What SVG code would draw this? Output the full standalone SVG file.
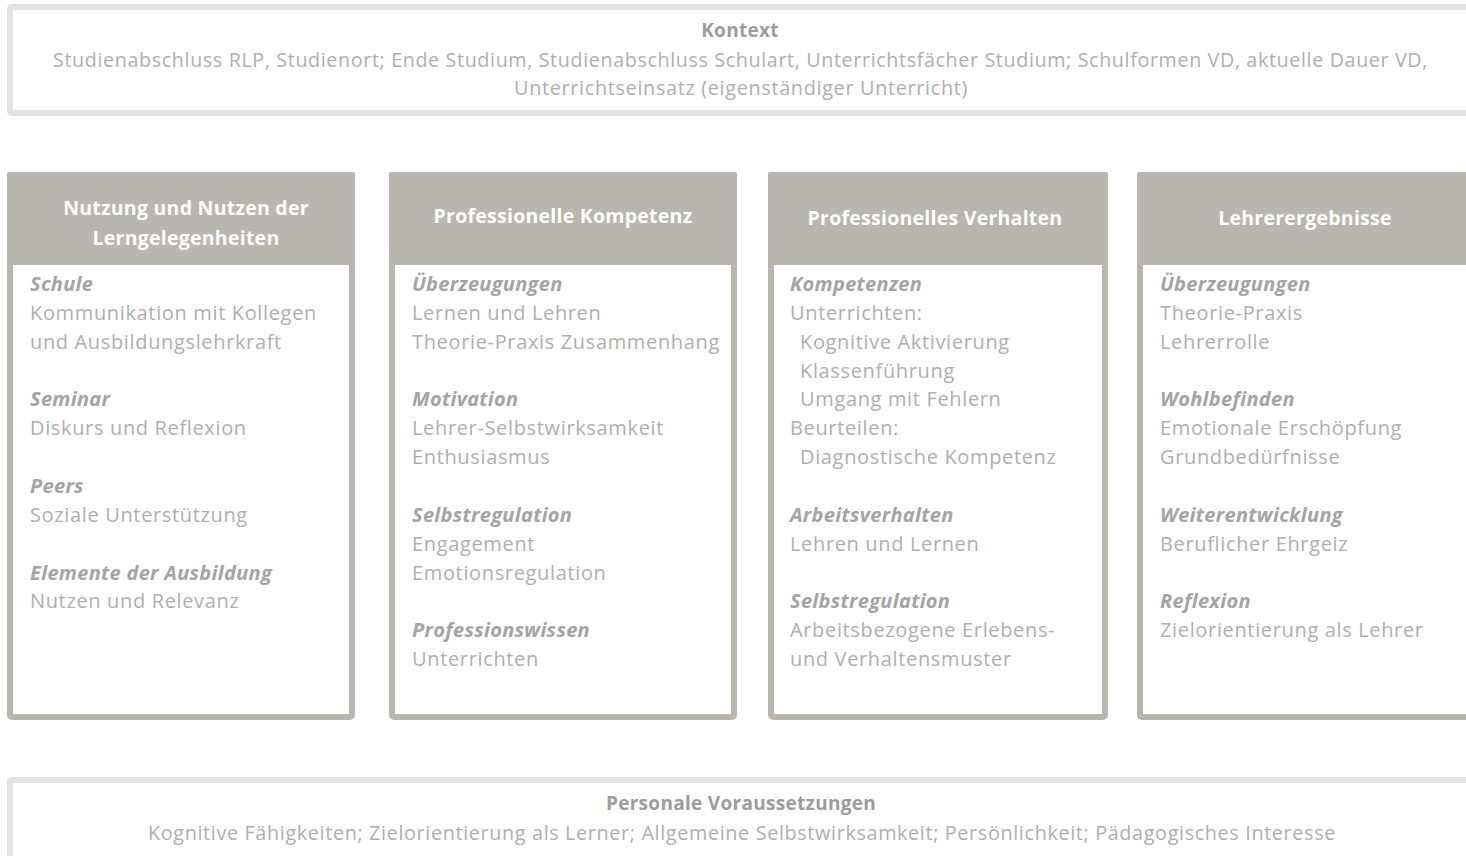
<svg xmlns="http://www.w3.org/2000/svg" width="1466" height="856" viewBox="0 0 1466 856">
<style>
.frame{fill:#ffffff;stroke:#e3e3df;stroke-width:6}
.col{fill:#ffffff;stroke:#b8b6ae;stroke-width:6}
.hdr{fill:#b8b6ae}
text{font-family:"Open Sans","Liberation Sans",sans-serif}
.ht{font-size:19.5px;font-weight:bold;fill:#ffffff;text-anchor:middle;letter-spacing:0.25px}
.tt{font-size:19px;font-weight:bold;fill:#9c9c9c;text-anchor:middle;letter-spacing:0.3px}
.ln{font-size:20px;fill:#afafaf;letter-spacing:0.65px}
.lc{font-size:20px;fill:#afafaf;text-anchor:middle}
.h{font-size:20px;font-weight:bold;font-style:italic;fill:#a4a4a4;letter-spacing:0.3px}
</style>
<rect width="1466" height="856" fill="#ffffff"/>
<g id="kontext">
<rect class="frame" x="10" y="7" width="1470" height="106" rx="2"/>
<text class="tt" x="740" y="37">Kontext</text>
<text class="ln" x="53" y="67" textLength="1375" lengthAdjust="spacingAndGlyphs">Studienabschluss RLP, Studienort; Ende Studium, Studienabschluss Schulart, Unterrichtsfächer Studium; Schulformen VD, aktuelle Dauer VD,</text>
<text class="ln" x="514" y="95" textLength="454" lengthAdjust="spacingAndGlyphs">Unterrichtseinsatz (eigenständiger Unterricht)</text>
</g>
<g id="col1">
<rect class="col" x="10" y="175" width="342" height="542" rx="2"/>
<rect class="hdr" x="7" y="172" width="348" height="93" rx="2"/>
<text class="ht" x="186" y="215">Nutzung und Nutzen der</text>
<text class="ht" x="186" y="245">Lerngelegenheiten</text>
<text class="h" x="30" y="291">Schule</text>
<text class="ln" x="30" y="320">Kommunikation mit Kollegen</text>
<text class="ln" x="30" y="349">und Ausbildungslehrkraft</text>
<text class="h" x="30" y="406">Seminar</text>
<text class="ln" x="30" y="435">Diskurs und Reflexion</text>
<text class="h" x="30" y="493">Peers</text>
<text class="ln" x="30" y="522">Soziale Unterstützung</text>
<text class="h" x="30" y="580">Elemente der Ausbildung</text>
<text class="ln" x="30" y="608">Nutzen und Relevanz</text>
</g>
<g id="col2">
<rect class="col" x="392" y="175" width="342" height="542" rx="2"/>
<rect class="hdr" x="389" y="172" width="348" height="93" rx="2"/>
<text class="ht" x="563" y="223">Professionelle Kompetenz</text>
<text class="h" x="412" y="291">Überzeugungen</text>
<text class="ln" x="412" y="320">Lernen und Lehren</text>
<text class="ln" x="412" y="349">Theorie-Praxis Zusammenhang</text>
<text class="h" x="412" y="406">Motivation</text>
<text class="ln" x="412" y="435">Lehrer-Selbstwirksamkeit</text>
<text class="ln" x="412" y="464">Enthusiasmus</text>
<text class="h" x="412" y="522">Selbstregulation</text>
<text class="ln" x="412" y="551">Engagement</text>
<text class="ln" x="412" y="580">Emotionsregulation</text>
<text class="h" x="412" y="637">Professionswissen</text>
<text class="ln" x="412" y="666">Unterrichten</text>
</g>
<g id="col3">
<rect class="col" x="771" y="175" width="334" height="542" rx="2"/>
<rect class="hdr" x="768" y="172" width="340" height="93" rx="2"/>
<text class="ht" x="935" y="225">Professionelles Verhalten</text>
<text class="h" x="790" y="291">Kompetenzen</text>
<text class="ln" x="790" y="320">Unterrichten:</text>
<text class="ln" x="800" y="349">Kognitive Aktivierung</text>
<text class="ln" x="800" y="378">Klassenführung</text>
<text class="ln" x="800" y="406">Umgang mit Fehlern</text>
<text class="ln" x="790" y="435">Beurteilen:</text>
<text class="ln" x="800" y="464">Diagnostische Kompetenz</text>
<text class="h" x="790" y="522">Arbeitsverhalten</text>
<text class="ln" x="790" y="551">Lehren und Lernen</text>
<text class="h" x="790" y="608">Selbstregulation</text>
<text class="ln" x="790" y="637">Arbeitsbezogene Erlebens-</text>
<text class="ln" x="790" y="666">und Verhaltensmuster</text>
</g>
<g id="col4">
<rect class="col" x="1140" y="175" width="340" height="542" rx="2"/>
<rect class="hdr" x="1137" y="172" width="346" height="93" rx="2"/>
<text class="ht" x="1305" y="225">Lehrerergebnisse</text>
<text class="h" x="1160" y="291">Überzeugungen</text>
<text class="ln" x="1160" y="320">Theorie-Praxis</text>
<text class="ln" x="1160" y="349">Lehrerrolle</text>
<text class="h" x="1160" y="406">Wohlbefinden</text>
<text class="ln" x="1160" y="435">Emotionale Erschöpfung</text>
<text class="ln" x="1160" y="464">Grundbedürfnisse</text>
<text class="h" x="1160" y="522">Weiterentwicklung</text>
<text class="ln" x="1160" y="551">Beruflicher Ehrgeiz</text>
<text class="h" x="1160" y="608">Reflexion</text>
<text class="ln" x="1160" y="637">Zielorientierung als Lehrer</text>
</g>
<g id="personale">
<rect class="frame" x="10" y="780" width="1470" height="100" rx="2"/>
<text class="tt" x="741" y="810">Personale Voraussetzungen</text>
<text class="ln" x="148" y="840" textLength="1188" lengthAdjust="spacingAndGlyphs">Kognitive Fähigkeiten; Zielorientierung als Lerner; Allgemeine Selbstwirksamkeit; Persönlichkeit; Pädagogisches Interesse</text>
</g>
<g id="connectors"></g>
</svg>
